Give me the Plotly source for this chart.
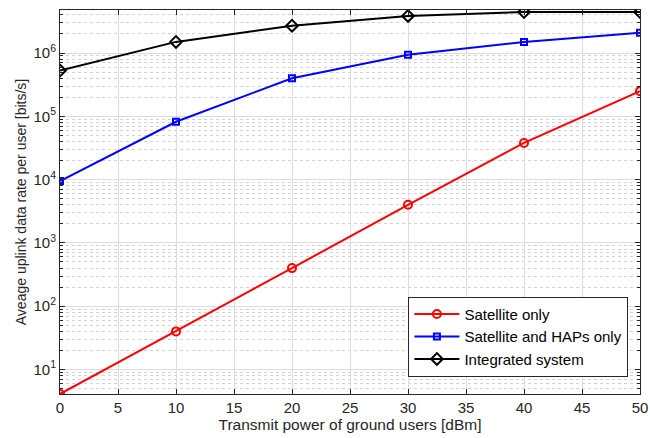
import numpy as np
import plotly.graph_objects as go

power_dbm = [0, 10, 20, 30, 40, 50]
sat_only = [4.1, 40, 400, 4000, 38000, 250000]
sat_haps = [9500, 82000, 400000, 940000, 1500000, 2100000]
integrated = [530000, 1500000, 2700000, 3850000, 4450000, 4450000]
y_tick_vals = [10, 100, 1000, 10000, 100000, 1000000]
y_tick_text = ["10<sup>1</sup>", "10<sup>2</sup>", "10<sup>3</sup>", "10<sup>4</sup>", "10<sup>5</sup>", "10<sup>6</sup>"]

fig = go.Figure()
fig.add_trace(go.Scatter(x=power_dbm, y=sat_only, mode="lines+markers", name="Satellite only",
                         line=dict(color="#ff0000", width=2),
                         marker=dict(symbol="circle-open", size=8, color="#ff0000", line=dict(width=2))))
fig.add_trace(go.Scatter(x=power_dbm, y=sat_haps, mode="lines+markers", name="Satellite and HAPs only",
                         line=dict(color="#0000ff", width=2),
                         marker=dict(symbol="square-open", size=6, color="#0000ff", line=dict(width=2))))
fig.add_trace(go.Scatter(x=power_dbm, y=integrated, mode="lines+markers", name="Integrated system",
                         line=dict(color="#000000", width=2),
                         marker=dict(symbol="diamond-open", size=9, color="#000000", line=dict(width=2))))

axis_font = dict(family="Liberation Sans, Arial, sans-serif", size=15, color="#262626")
ytitle_font = dict(family="Liberation Sans, Arial, sans-serif", size=14, color="#262626")
xtitle_font = dict(family="Liberation Sans, Arial, sans-serif", size=15.5, color="#262626")

fig.update_layout(
    width=650, height=438,
    margin=dict(l=60, r=10, t=10, b=44, autoexpand=False),
    paper_bgcolor="white", plot_bgcolor="white",
    font=axis_font,
    showlegend=True,
    legend=dict(x=0.98, y=0.045, xanchor="right", yanchor="bottom",
                bgcolor="white", bordercolor="#262626", borderwidth=1,
                font=dict(family="Liberation Sans, Arial, sans-serif", size=15, color="#000000"),
                tracegroupgap=0, itemwidth=45),
)
fig.update_xaxes(
    range=[0, 50], dtick=5, tick0=0, automargin=False,
    showgrid=True, gridcolor="#dcdcdc", gridwidth=1,
    showline=True, linecolor="#262626", linewidth=1, mirror="ticks",
    ticks="inside", ticklen=5, tickcolor="#262626",
    zeroline=False,
    title=dict(text="Transmit power of ground users [dBm]", standoff=0, font=xtitle_font),
    tickfont=axis_font,
)
fig.update_yaxes(
    type="log", range=[np.log10(4.1), 6.68], automargin=False,
    tickmode="array", tickvals=y_tick_vals, ticktext=y_tick_text,
    showgrid=True, gridcolor="#dcdcdc", gridwidth=1,
    showline=True, linecolor="#262626", linewidth=1, mirror="ticks",
    ticks="inside", ticklen=5, tickcolor="#262626",
    minor=dict(dtick="D1", showgrid=True, gridcolor="#d2d2d2", griddash="dot", gridwidth=1,
               ticks="inside", ticklen=3, tickcolor="#262626"),
    zeroline=False,
    title=dict(text="Aveage uplink data rate per user [bits/s]", standoff=3, font=ytitle_font),
    tickfont=axis_font,
)

fig.write_html("out.html", config={"displayModeBar": False},
               post_script="document.body.style.margin='0';document.body.style.overflow='hidden';")
